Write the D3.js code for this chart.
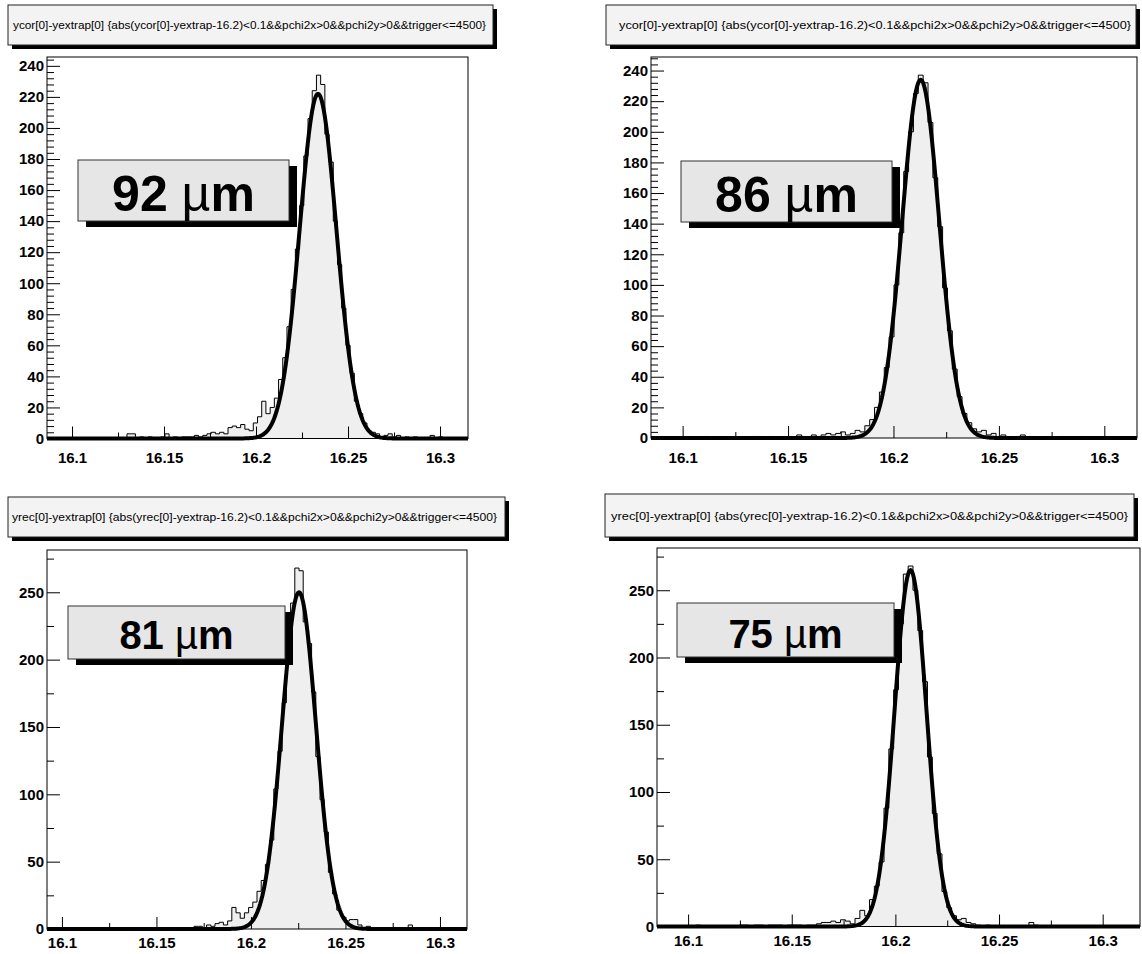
<!DOCTYPE html>
<html>
<head>
<meta charset="utf-8">
<script src="https://cdn.jsdelivr.net/npm/d3@7"></script>
<style>
  body { margin: 0; background: #fff; }
  svg { display: block; font-family: "Liberation Sans", Arial, sans-serif; }
</style>
</head>
<body>
<svg id="chart" width="1142" height="954"></svg>
<script>
// ---- data ----
var titleYcor = "ycor[0]-yextrap[0] {abs(ycor[0]-yextrap-16.2)<0.1&&pchi2x>0&&pchi2y>0&&trigger<=4500}";
var titleYrec = "yrec[0]-yextrap[0] {abs(yrec[0]-yextrap-16.2)<0.1&&pchi2x>0&&pchi2y>0&&trigger<=4500}";

var resolutions = ["92", "86", "81", "75"];   // micron labels

var xTickValues = [16.1, 16.15, 16.2, 16.25, 16.3];
var xTickLabels = ["16.1", "16.15", "16.2", "16.25", "16.3"];
var xMinorTicks = [16.125, 16.175, 16.225, 16.275];
var yTicksTop = [0, 20, 40, 60, 80, 100, 120, 140, 160, 180, 200, 220, 240];
var yTicksBottom = [0, 50, 100, 150, 200, 250];

// histogram axis ranges (100 bins each)
var xRange92 = [16.0864, 16.3152];
var xRange86 = [16.085, 16.3155];
var xRange81 = [16.0921, 16.3143];
var xRange75 = [16.085, 16.318];

var counts92 = [
  0,0,0,0,0,0,0,0,0,0,
  0,0,0,0,0,0,0,0,0,3,
  3,0,1,0,1,0,0,1,3,0,
  1,0,1,1,1,2,1,2,3,4,
  3,4,3,7,8,7,9,6,5,10,
  14,24,16,20,26,38,52,72,96,122,
  150,182,206,224,234,228,196,178,140,112,
  84,60,42,24,16,10,5,4,3,1,
  2,3,1,2,0,1,0,1,0,0,
  0,2,0,1,0,0,0,0,0,0];

var counts86 = [
  0,0,0,0,0,0,0,0,0,0,
  0,1,0,0,0,0,0,0,0,0,
  0,1,1,0,1,0,0,0,1,0,
  2,1,1,2,1,2,3,2,3,4,
  2,3,5,4,8,12,20,30,46,66,
  100,134,174,200,225,237,232,206,170,138,
  98,70,45,27,16,10,6,4,5,2,
  3,1,2,1,0,1,2,0,1,0,
  0,1,0,0,1,0,0,0,1,0,
  0,0,0,0,0,0,0,0,0,0];

var counts81 = [
  0,0,0,0,1,0,0,0,0,0,
  0,0,0,0,0,0,0,0,0,0,
  1,1,0,1,1,1,1,0,1,1,
  1,0,1,1,1,2,2,1,3,2,
  4,5,3,6,16,12,8,12,16,20,
  28,36,48,66,104,132,168,206,242,268,
  266,228,212,176,128,96,72,42,26,14,
  9,6,7,7,3,1,2,0,1,0,
  0,0,0,0,0,0,3,1,0,0,
  0,0,0,0,0,0,0,0,0,0];

var counts75 = [
  0,0,0,0,0,0,0,0,1,0,
  0,0,0,0,0,0,0,1,1,0,
  1,1,0,1,1,1,0,1,1,1,
  0,1,1,2,3,3,4,3,5,4,
  2,6,12,8,20,30,48,88,132,176,
  225,262,268,250,220,182,126,84,54,26,
  14,8,5,6,3,2,1,0,1,0,
  0,0,0,0,0,0,0,3,1,0,
  0,0,0,0,0,0,0,0,0,0,
  0,0,0,0,0,0,0,0,0,0];

// gaussian fit parameters: [constant, mean, sigma]
var fit92 = [222, 16.2337, 0.0100];
var fit86 = [234, 16.2129, 0.0088];
var fit81 = [250, 16.2254, 0.0090];
var fit75 = [265, 16.2073, 0.0077];

// ---- layout ----
var panels = [
  { counts: counts92, fit: fit92, xRange: xRange92, yTicks: yTicksTop, minorStep: 4, title: titleYcor, res: resolutions[0],
    plot: { left: 47, right: 468, top: 57, bottom: 438.5, labelPad: 14 },
    tbox: { x: 8, y: 5, w: 485, h: 40, tx: 13, tw: 473, ty: 29 },
    lbox: { x: 78, y: 160, w: 211, h: 61, size: 50, ty: 211 } },
  { counts: counts86, fit: fit86, xRange: xRange86, yTicks: yTicksTop, minorStep: 4, title: titleYcor, res: resolutions[1],
    plot: { left: 651, right: 1137, top: 57, bottom: 438, labelPad: 14 },
    tbox: { x: 606, y: 5, w: 530, h: 40, tx: 619, tw: 512, ty: 29 },
    lbox: { x: 681, y: 161, w: 211, h: 61, size: 50, ty: 212 } },
  { counts: counts81, fit: fit81, xRange: xRange81, yTicks: yTicksBottom, minorStep: 25, title: titleYrec, res: resolutions[2],
    plot: { left: 47, right: 467, top: 550, bottom: 929, labelPad: 8 },
    tbox: { x: 8, y: 497, w: 497, h: 40, tx: 12, tw: 485, ty: 521 },
    lbox: { x: 68, y: 606, w: 217, h: 53, size: 40, ty: 649 } },
  { counts: counts75, fit: fit75, xRange: xRange75, yTicks: yTicksBottom, minorStep: 25, title: titleYrec, res: resolutions[3],
    plot: { left: 657, right: 1140, top: 548, bottom: 926.5, labelPad: 9 },
    tbox: { x: 605, y: 494, w: 529, h: 43, tx: 611, tw: 517, ty: 520 },
    lbox: { x: 677, y: 603, w: 217, h: 54, size: 40, ty: 648 } }
];

var svg = d3.select("#chart");

panels.forEach(function(p) {
  var g = svg.append("g");

  var x = d3.scaleLinear().domain(p.xRange).range([p.plot.left, p.plot.right]);
  var ymax = d3.max(p.counts) * 1.05;
  var y = d3.scaleLinear().domain([0, ymax]).range([p.plot.bottom, p.plot.top]);

  // bin edges for the step outline
  var binW = (p.xRange[1] - p.xRange[0]) / p.counts.length;
  var steps = p.counts.map(function(c, i) { return [p.xRange[0] + i * binW, c]; });
  steps.push([p.xRange[1], p.counts[p.counts.length - 1]]);

  g.append("path")
    .datum(steps)
    .attr("fill", "#efefef")
    .attr("d", d3.area().curve(d3.curveStepAfter)
      .x(function(d) { return x(d[0]); })
      .y0(y(0))
      .y1(function(d) { return y(d[1]); }));

  g.append("path")
    .datum(steps)
    .attr("fill", "none")
    .attr("stroke", "#000")
    .attr("stroke-width", 1)
    .attr("d", d3.line().curve(d3.curveStepAfter)
      .x(function(d) { return x(d[0]); })
      .y(function(d) { return y(d[1]); }));

  // frame
  g.append("rect")
    .attr("x", p.plot.left).attr("y", p.plot.top)
    .attr("width", p.plot.right - p.plot.left)
    .attr("height", p.plot.bottom - p.plot.top)
    .attr("fill", "none").attr("stroke", "#000").attr("stroke-width", 1);

  // axes, ticks drawn inside the frame like ROOT does
  var yMinor = d3.range(0, ymax, p.minorStep).filter(function(v) { return p.yTicks.indexOf(v) < 0; });

  g.append("g")
    .attr("transform", "translate(0," + p.plot.bottom + ")")
    .call(d3.axisBottom(x).tickValues(xMinorTicks).tickSize(-6).tickFormat(""))
    .call(function(a) { a.select(".domain").remove(); });

  g.append("g")
    .attr("transform", "translate(0," + p.plot.bottom + ")")
    .call(d3.axisBottom(x).tickValues(xTickValues).tickSize(-12).tickPadding(p.plot.labelPad)
      .tickFormat(function(d, i) { return xTickLabels[i]; }))
    .call(function(a) { a.select(".domain").remove(); });

  g.append("g")
    .attr("transform", "translate(" + p.plot.left + ",0)")
    .call(d3.axisLeft(y).tickValues(yMinor).tickSize(-7).tickFormat(""))
    .call(function(a) { a.select(".domain").remove(); });

  g.append("g")
    .attr("transform", "translate(" + p.plot.left + ",0)")
    .call(d3.axisLeft(y).tickValues(p.yTicks).tickSize(-13).tickPadding(3))
    .call(function(a) { a.select(".domain").remove(); });

  g.selectAll(".tick line").attr("stroke", "#000");
  g.selectAll(".tick text")
    .attr("font-family", "'Liberation Sans', Arial, sans-serif")
    .attr("font-size", 15)
    .attr("font-weight", "bold")
    .attr("fill", "#000");

  // gaussian fit, drawn over the whole range
  var fitX = d3.range(401).map(function(i) { return p.xRange[0] + i * (p.xRange[1] - p.xRange[0]) / 400; });
  var gaus = function(v) {
    var t = (v - p.fit[1]) / p.fit[2];
    return p.fit[0] * Math.exp(-0.5 * t * t);
  };
  g.append("path")
    .datum(fitX)
    .attr("fill", "none")
    .attr("stroke", "#000")
    .attr("stroke-width", 4)
    .attr("stroke-linejoin", "round")
    .attr("d", d3.line()
      .x(function(d) { return x(d); })
      .y(function(d) { return y(gaus(d)); }));

  // title pave with shadow
  var tb = p.tbox;
  g.append("rect").attr("x", tb.x + 4).attr("y", tb.y + 4).attr("width", tb.w).attr("height", tb.h).attr("fill", "#000");
  g.append("rect").attr("x", tb.x).attr("y", tb.y).attr("width", tb.w).attr("height", tb.h)
    .attr("fill", "#f3f3f3").attr("stroke", "#222").attr("stroke-width", 1);
  g.append("text")
    .attr("x", tb.tx).attr("y", tb.ty)
    .attr("textLength", tb.tw).attr("lengthAdjust", "spacingAndGlyphs")
    .attr("font-size", 11)
    .attr("fill", "#000")
    .text(p.title);

  // resolution label pave
  var lb = p.lbox;
  g.append("rect").attr("x", lb.x + 8).attr("y", lb.y + 6).attr("width", lb.w).attr("height", lb.h).attr("fill", "#000");
  g.append("rect").attr("x", lb.x).attr("y", lb.y).attr("width", lb.w).attr("height", lb.h)
    .attr("fill", "#e6e6e6").attr("stroke", "#333").attr("stroke-width", 1);
  var lt = g.append("text")
    .attr("x", lb.x + lb.w / 2).attr("y", lb.ty)
    .attr("text-anchor", "middle")
    .attr("font-size", lb.size)
    .attr("font-weight", "bold")
    .attr("fill", "#000");
  lt.append("tspan").text(p.res + " ");
  lt.append("tspan").attr("font-weight", "normal").text("\u00b5");
  lt.append("tspan").text("m");
});
</script>
</body>
</html>
